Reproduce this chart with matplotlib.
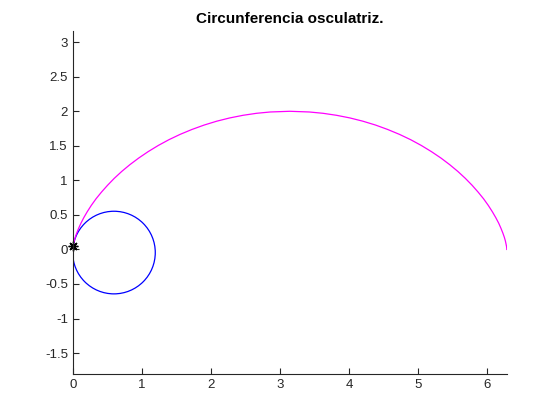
import numpy as np
import matplotlib
matplotlib.use("Agg")
from matplotlib import pyplot as plt
from matplotlib.patches import Circle

plt.rcParams['font.family'] = ['Liberation Sans', 'DejaVu Sans']
plt.rcParams['axes.unicode_minus'] = False

# curve points
curve_x = [0.0, 0.0002, 0.001, 0.0045, 0.011, 0.021, 0.035, 0.056, 0.083, 0.117,
           0.159, 0.209, 0.268, 0.336, 0.415, 0.503, 0.600, 0.708, 0.826, 0.954,
           1.091, 1.237, 1.392, 1.554, 1.725, 1.902, 2.085, 2.273, 2.465, 2.661,
           2.859, 3.142,
           3.424, 3.622, 3.818, 4.011, 4.198, 4.382, 4.558, 4.729, 4.891, 5.046,
           5.192, 5.330, 5.457, 5.575, 5.683, 5.781, 5.868, 5.947, 6.015, 6.074,
           6.124, 6.167, 6.200, 6.227, 6.248, 6.263, 6.272, 6.279, 6.282, 6.2830,
           6.2832]
curve_y = [0.0, 0.005, 0.020, 0.045, 0.079, 0.122, 0.175, 0.235, 0.303, 0.378,
           0.460, 0.546, 0.638, 0.733, 0.830, 0.929, 1.029, 1.129, 1.227, 1.323,
           1.416, 1.505, 1.589, 1.666, 1.737, 1.801, 1.857, 1.904, 1.942, 1.971,
           1.990, 2.0,
           1.990, 1.971, 1.942, 1.904, 1.857, 1.801, 1.737, 1.666, 1.589, 1.505,
           1.416, 1.323, 1.227, 1.129, 1.029, 0.929, 0.830, 0.733, 0.638, 0.546,
           0.460, 0.378, 0.303, 0.235, 0.175, 0.122, 0.079, 0.045, 0.020, 0.005,
           0.0]

# osculating circle and contact point
circle_center = (0.596, -0.045)
circle_radius = 0.598
point = (0.005, 0.045)

fig = plt.figure(figsize=(5.6, 4.2), dpi=100)
ax = fig.add_axes([0.13, 0.11, 0.775, 0.815])

ax.plot(curve_x, curve_y, color=(1, 0, 1), lw=0.9)
ax.add_patch(Circle(circle_center, circle_radius, fill=False, edgecolor=(0, 0, 1), lw=0.9))
ax.plot([point[0]], [point[1]], marker=(8, 2, 0), color='k', ms=7, mew=1.0,
        ls='none', clip_on=False)

ax.set_xlim(0, 2 * np.pi)
ax.set_ylim(-1.8, 3.155)
ax.set_xticks(range(0, 7))
ax.set_yticks(np.arange(-1.5, 3.01, 0.5))
ax.set_yticklabels(['-1.5', '-1', '-0.5', '0', '0.5', '1', '1.5', '2', '2.5', '3'])

for s in ['top', 'right']:
    ax.spines[s].set_visible(False)
for s in ['left', 'bottom']:
    ax.spines[s].set_color('0.15')
    ax.spines[s].set_linewidth(0.8)
ax.tick_params(direction='in', length=4, width=0.8, color='0.15', labelcolor='0.15', labelsize=9.5)

ax.set_title('Circunferencia osculatriz.', fontsize=11, fontweight='bold')

fig.savefig('out.png', dpi=100)
